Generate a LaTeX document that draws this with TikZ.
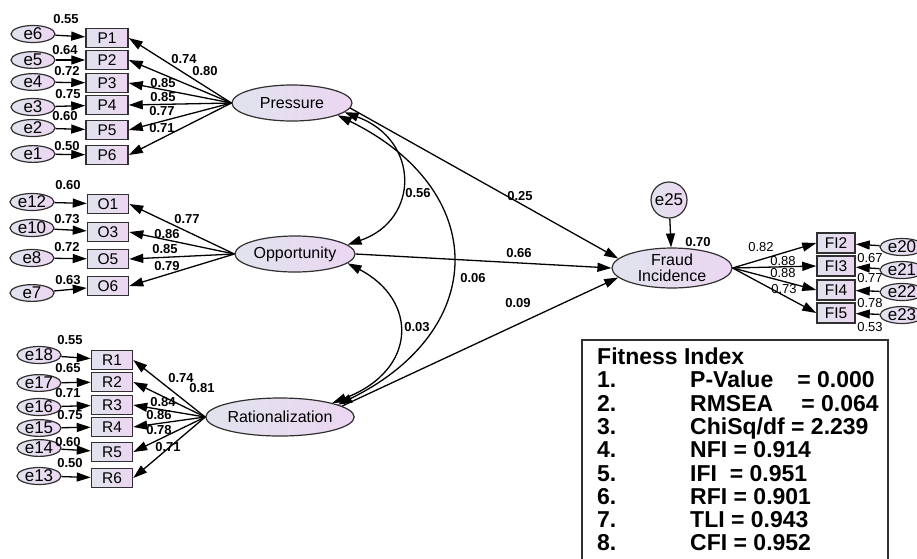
\documentclass[tikz,border=0pt]{standalone}
\usepackage{fontspec}
\setmainfont{Liberation Sans}
\usetikzlibrary{arrows.meta,shapes.geometric}
\definecolor{latL}{HTML}{E0E3EE}
\definecolor{latR}{HTML}{ECD6F1}
\definecolor{edge}{HTML}{303030}
\begin{document}
\begin{tikzpicture}[x=1pt,y=-1pt,
 lat/.style={ellipse,draw=edge,line width=1.2pt,left color=latL,right color=latR,minimum width=120pt,minimum height=36pt,inner sep=0pt,align=center,font=\fontsize{16}{16.5}\selectfont},
 obs/.style={rectangle,draw=edge,line width=1.5pt,left color=latL,right color=latR,minimum width=42pt,minimum height=19pt,inner sep=0pt,font=\fontsize{15.5}{15.5}\selectfont},
 err/.style={ellipse,draw=edge,line width=1.2pt,left color=latL,right color=latR,minimum width=44pt,minimum height=15pt,inner sep=0pt,font=\fontsize{17}{17}\selectfont},
 arr/.style={line width=1.3pt,draw=black,-{Triangle[length=14pt,width=9pt]}},
 darr/.style={line width=1.3pt,draw=black,{Triangle[length=14pt,width=9pt]}-{Triangle[length=14pt,width=9pt]}},
 lab/.style={font=\bfseries\fontsize{13}{13}\selectfont,inner sep=0pt},
 labr/.style={font=\fontsize{13}{13}\selectfont,inner sep=0pt},
 fit/.style={font=\bfseries\fontsize{23}{23}\selectfont,anchor=base west,inner sep=0pt}
]
\useasboundingbox (0,0) rectangle (917,558);

% latent variables
\node[lat] (pr) at (292,103) {Pressure};
\node[lat] (op) at (295,254) {Opportunity};
\node[lat,minimum height=38pt] (ra) at (280,417) {Rationalization};
\node[lat] (fi) at (672,268) {Fraud\\Incidence};
\node[circle,draw=edge,line width=1.2pt,left color=latL,right color=latR,minimum size=36pt,inner sep=0pt,font=\fontsize{17}{17}\selectfont] (e25) at (669,200) {e25};

% Pressure indicators
\foreach \bb/\by/\ee/\ey/\vv/\vx/\vy in {P1/38/e6/34/0.55/66/19, P2/60/e5/60/0.64/65/50, P3/83/e4/82/0.72/67/71, P4/105/e3/107/0.75/68/94, P5/130/e2/128/0.60/65/116, P6/155/e1/154/0.50/67/146}{
  \node[obs] (\bb) at (107,\by) {\bb};
  \node[err] (\ee) at (33,\ey) {\ee};
  \draw[arr] (\ee) -- (\bb);
  \node[lab] (l\ee) at (\vx,\vy) {\vv};
}
\foreach \bb/\vv/\vx/\vy in {P1/0.74/184/59, P2/0.80/205/71, P3/0.85/163/83, P4/0.85/163/97.5, P5/0.77/162/111, P6/0.71/162/128}{
  \draw[arr] (pr.west) -- (\bb.east);
  \node[lab] (l\bb) at (\vx,\vy) {\vv};
}

% Opportunity indicators
\foreach \bb/\by/\ee/\ey/\vv/\vx/\vy in {O1/204/e12/202/0.60/68/185, O3/232/e10/228/0.73/67/219, O5/259/e8/258/0.72/67/247, O6/286/e7/293/0.63/68/280}{
  \node[obs,minimum width=41pt] (\bb) at (108,\by) {\bb};
  \node[err] (\ee) at (32,\ey) {\ee};
  \draw[arr] (\ee) -- (\bb);
  \node[lab] (l\ee) at (\vx,\vy) {\vv};
}
\foreach \bb/\vv/\vx/\vy in {O1/0.77/187/219, O3/0.86/167/234, O5/0.85/165/249, O6/0.79/167/266}{
  \draw[arr] (op.west) -- (\bb.east);
  \node[lab] (l\bb) at (\vx,\vy) {\vv};
}

% Rationalization indicators
\foreach \bb/\by/\ee/\ey/\vv/\vx/\vy in {R1/360/e18/355/0.55/70/340, R2/382/e17/383/0.65/68/368, R3/405/e16/407/0.71/68/393, R4/427/e15/428/0.75/70/415, R5/452/e14/448/0.60/68/442, R6/478/e13/476/0.50/70/463}{
  \node[obs,minimum width=41pt] (\bb) at (112,\by) {\bb};
  \node[err] (\ee) at (39,\ey) {\ee};
  \draw[arr] (\ee) -- (\bb);
  \node[lab] (l\ee) at (\vx,\vy) {\vv};
}
\foreach \bb/\vv/\vx/\vy in {R1/0.74/181/378, R2/0.81/202/388, R3/0.84/163/402, R4/0.86/159/415, R5/0.78/159/430, R6/0.71/168/447}{
  \draw[arr] (ra.west) -- (\bb.east);
  \node[lab] (l\bb) at (\vx,\vy) {\vv};
}

% Fraud incidence indicators
\foreach \bb/\by/\ee/\ey/\vv/\vx/\vy/\ww/\wx/\wy in {FI2/243/e20/247/0.82/761/247/0.67/870/258, FI3/266/e21/270/0.88/783/261/0.77/870/278, FI4/290/e22/292/0.88/783/273/0.78/870/303, FI5/313/e23/315/0.73/784/289/0.53/870/327}{
  \node[obs,minimum width=38pt,minimum height=20pt] (\bb) at (836,\by) {\bb};
  \node[err] (\ee) at (902,\ey) {\ee};
  \draw[arr] (\ee) -- (\bb);
  \draw[arr] (fi.east) -- (\bb.west);
  \node[labr] (l\bb) at (\vx,\vy) {\vv};
  \node[labr] (l\ee) at (\wx,\wy) {\ww};
}
\draw[arr] (e25) -- (fi);
\node[lab] (l25) at (698,242) {0.70};

% structural paths
\draw[arr] (pr.-5) -- (fi.170);
\draw[arr] (op.east) -- (fi.west);
\draw[arr] (ra.10) -- (fi.190);
\node[lab] (lpf) at (520,196) {0.25};
\node[lab] (lof) at (519,253) {0.66};
\node[lab] (lrf) at (518,303) {0.09};

% covariances
\draw[darr] (pr.-10) .. controls (420,140) and (420,220) .. (op.10);
\draw[darr] (op.-10) .. controls (418,300) and (418,370) .. (ra.15);
\draw[darr] (pr.-15) .. controls (490,190) and (490,330) .. (ra.12);
\node[lab] (lpo) at (418,193) {0.56};
\node[lab] (lpr) at (473,278) {0.06};
\node[lab] (lor) at (417,327) {0.03};

% fitness index box
\draw[draw=edge,line width=1.8pt] (582,570) -- (582,340) -- (888,340) -- (888,570);
\node[fit] (ft) at (597,364.5) {Fitness Index};
\foreach \k/\txt [count=\i] in {1./{P-Value\hspace{24pt}= 0.000}, 2./{RMSEA\hspace{28pt}= 0.064}, 3./{ChiSq/df = 2.239}, 4./{NFI = 0.914}, 5./{IFI\ \ = 0.951}, 6./{RFI = 0.901}, 7./{TLI = 0.943}, 8./{CFI = 0.952}}{
  \node[fit] (fn\i) at (597,364.5+23.3*\i) {\k};
  \node[fit] (fv\i) at (690,364.5+23.3*\i) {\txt};
}
\end{tikzpicture}
\end{document}
